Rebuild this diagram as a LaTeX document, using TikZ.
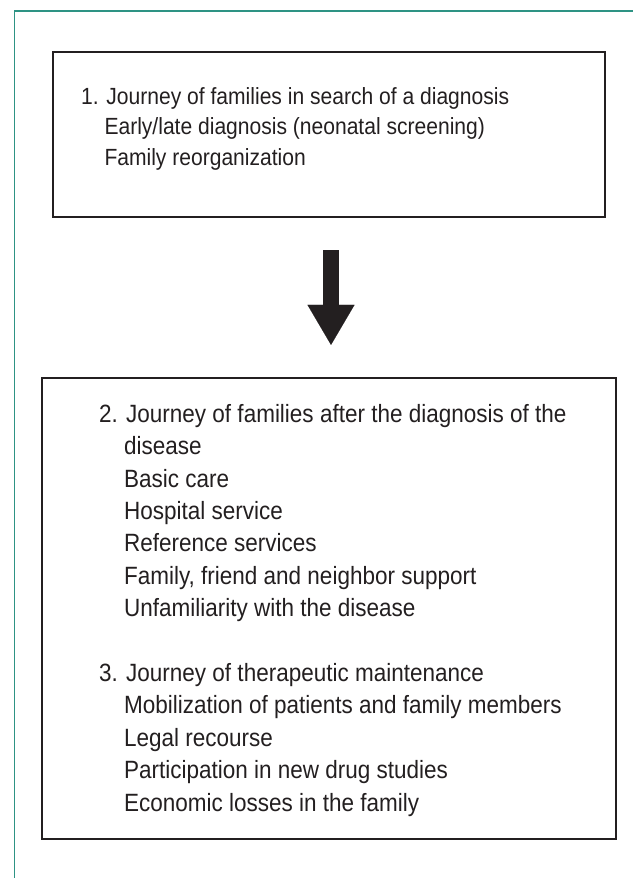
\documentclass[tikz,border=0pt]{standalone}
\usepackage{fontspec}
\setmainfont[FakeStretch=0.9]{Liberation Sans}
\usetikzlibrary{arrows.meta,positioning}
\definecolor{frameteal}{HTML}{2E9384}
\definecolor{inkgray}{HTML}{231F20}
\newcommand\subindent{\hphantom{0.\ }}

\begin{document}
\begin{tikzpicture}[x=1pt,y=-1pt,
    stagebox/.style={draw=inkgray, line width=2.2pt, inner sep=0pt},
    stagetext/.style={inner sep=0pt, align=left, text=inkgray},
    blockarrow/.style={draw=inkgray, line width=16pt,
      -{Triangle[length=40pt 0, width=47pt 0, line width=0.1pt 0]}}]
  \useasboundingbox (0,0) rectangle (633,878);
  % outer frame, open at right and bottom
  \draw[frameteal, line width=1.6pt] (14.5,878) |- (633,11);

  \node[stagebox, minimum width=552pt, minimum height=165pt] (box1) at (329,134.5) {};
  \node[stagebox, minimum width=574pt, minimum height=461pt] (box2) at (329,608.5) {};

  \node[stagetext, font=\fontsize{23.4}{30.5}\selectfont, anchor=north west,
    below right=36pt and 29pt of box1.north west] (stage1) {%
    1. Journey of families in search of a diagnosis\\
    \subindent Early/late diagnosis (neonatal screening)\\
    \subindent Family reorganization};

  \node[stagetext, font=\fontsize{25}{32.4}\selectfont, anchor=north west,
    below right=27pt and 58pt of box2.north west] (stage23) {%
    2. Journey of families after the diagnosis of the\\
    \subindent disease\\
    \subindent Basic care\\
    \subindent Hospital service\\
    \subindent Reference services\\
    \subindent Family, friend and neighbor support\\
    \subindent Unfamiliarity with the disease\\[32.4pt]
    3. Journey of therapeutic maintenance\\
    \subindent Mobilization of patients and family members\\
    \subindent Legal recourse\\
    \subindent Participation in new drug studies\\
    \subindent Economic losses in the family};

  \draw[blockarrow, shorten <=32pt, shorten >=32pt]
    ([xshift=2pt]box1.south) -- ([xshift=2pt]box2.north);
\end{tikzpicture}
\end{document}
